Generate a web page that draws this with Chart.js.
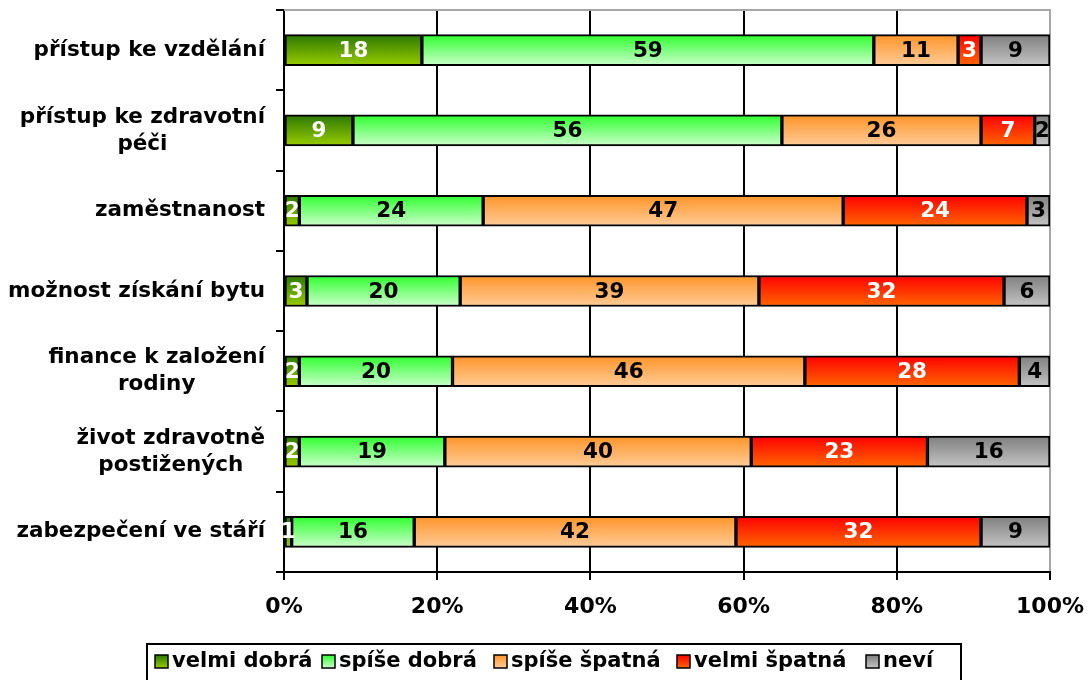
<!DOCTYPE html>
<html><head><meta charset="utf-8">
<script src="https://cdn.jsdelivr.net/npm/chart.js@4/dist/chart.umd.min.js"></script>
<style>html,body{margin:0;padding:0;background:#fff;} #wrap{width:1088px;height:680px;}</style>
</head><body><div id="wrap"><canvas id="c" width="1088" height="680"></canvas></div>
<script>
const categories = [["přístup ke vzdělání"],["přístup ke zdravotní","péči"],["zaměstnanost"],["možnost získání bytu"],["finance k založení","rodiny"],["život zdravotně","postižených"],["zabezpečení ve stáří"]];
const seriesNames = ["velmi dobrá","spíše dobrá","spíše špatná","velmi špatná","neví"];
const velmiDobra  = [18, 9, 2, 3, 2, 2, 1];
const spiseDobra  = [59, 56, 24, 20, 20, 19, 16];
const spiseSpatna = [11, 26, 47, 39, 46, 40, 42];
const velmiSpatna = [3, 7, 24, 32, 28, 23, 32];
const nevi        = [9, 2, 3, 6, 4, 16, 9];
const xTicks = [0, 20, 40, 60, 80, 100];

const seriesData = [velmiDobra, spiseDobra, spiseSpatna, velmiSpatna, nevi];
const gradStops = [['#2b7800','#99cc00'],['#2eff2e','#ccffcc'],['#ff9428','#ffcc99'],['#ff0000','#ff6600'],['#7f7f7f','#c4c4c4']];
const labelColors = ['#fff','#000','#000','#fff','#000'];
const legendX = [155, 322, 494, 677, 866];
const FONT = '"DejaVu Sans", Verdana, sans-serif';
const BAR_H = 31;

function makeGrad(ctx, y0, y1, stops){
  const g = ctx.createLinearGradient(0, y0, 0, y1);
  g.addColorStop(0, stops[0]); g.addColorStop(1, stops[1]);
  return g;
}
function bg(i){
  return (c) => {
    const ch = c.chart; const ys = ch.scales && ch.scales.y;
    if (!ys || c.dataIndex === undefined || !ch.chartArea) return gradStops[i][1];
    const yc = ys.getPixelForValue(c.dataIndex);
    if (!isFinite(yc)) return gradStops[i][1];
    return makeGrad(ch.ctx, yc - BAR_H/2, yc + BAR_H/2, gradStops[i]);
  };
}

const customPlugin = {
  id: 'custom',
  beforeDatasetsDraw(chart){
    const {ctx, chartArea:a} = chart;
    ctx.save(); ctx.strokeStyle = '#a6a6a6'; ctx.lineWidth = 2;
    ctx.beginPath(); ctx.moveTo(a.left, a.top); ctx.lineTo(a.right + 1, a.top); ctx.stroke();
    ctx.restore();
  },
  afterDatasetsDraw(chart){
    const ctx = chart.ctx;
    ctx.save();
    ctx.font = 'bold 21.5px ' + FONT; ctx.textAlign = 'center'; ctx.textBaseline = 'middle';
    chart.data.datasets.forEach((ds, i) => {
      const meta = chart.getDatasetMeta(i);
      meta.data.forEach((el, j) => {
        ctx.fillStyle = labelColors[i];
        ctx.fillText(String(ds.data[j]), (el.x + el.base) / 2, el.y + 1);
      });
    });
    ctx.restore();
  },
  afterDraw(chart){
    const ctx = chart.ctx; const ys = chart.scales.y;
    ctx.save();
    ctx.font = 'bold 21.5px ' + FONT; ctx.fillStyle = '#000'; ctx.textAlign = 'center'; ctx.textBaseline = 'middle';
    const right = 265, lh = 27;
    chart.data.labels.forEach((lines, i) => {
      const yc = ys.getPixelForValue(i);
      const maxW = Math.max(...lines.map(l => ctx.measureText(l).width));
      const cx = right - maxW / 2;
      lines.forEach((l, k) => {
        ctx.fillText(l, cx, yc + (k - (lines.length - 1) / 2) * lh);
      });
    });
    // legend
    ctx.lineWidth = 2; ctx.strokeStyle = '#000';
    ctx.strokeRect(147, 644, 814, 60);
    ctx.font = 'bold 21px ' + FONT; ctx.textAlign = 'left';
    seriesNames.forEach((n, i) => {
      const x = legendX[i];
      ctx.fillStyle = makeGrad(ctx, 655, 668, gradStops[i]);
      ctx.fillRect(x, 655, 13, 13);
      ctx.lineWidth = 1.5; ctx.strokeRect(x, 655, 13, 13);
      ctx.fillStyle = '#000';
      ctx.fillText(n, x + 17, 662);
    });
    ctx.restore();
  }
};

new Chart(document.getElementById('c'), {
  type: 'bar',
  data: {
    labels: categories,
    datasets: seriesData.map((d, i) => ({
      label: seriesNames[i], data: d, backgroundColor: bg(i),
      borderColor: '#000', borderWidth: 2, borderSkipped: false, barThickness: BAR_H
    }))
  },
  options: {
    indexAxis: 'y', responsive: false, animation: false, devicePixelRatio: 1,
    layout: { padding: { left: 0, right: 38, top: 10, bottom: 0 } },
    plugins: { legend: { display: false }, tooltip: { enabled: false } },
    scales: {
      x: {
        stacked: true, min: 0, max: 100,
        afterBuildTicks: s => { s.ticks = xTicks.map(v => ({ value: v })); },
        ticks: { callback: v => v + '%', font: { family: FONT, size: 22, weight: 'bold' }, color: '#000', padding: 14, maxRotation: 0, autoSkip: false },
        grid: { color: c => (c.tick && c.tick.value === 100) ? '#a6a6a6' : '#000', lineWidth: 2, tickLength: 8, drawTicks: true, tickColor: '#000' },
        border: { color: '#000', width: 2 },
        afterFit: s => { s.height = 108; s.paddingLeft = 0; s.paddingRight = 0; }
      },
      y: {
        stacked: true,
        ticks: { display: false },
        grid: { offset: true, drawOnChartArea: false, drawTicks: true, tickLength: 8, color: '#000', lineWidth: 2 },
        border: { color: '#000', width: 2 },
        afterFit: s => { s.width = 284; s.paddingTop = 0; s.paddingBottom = 0; }
      }
    }
  },
  plugins: [customPlugin]
});
</script>
</body></html>
